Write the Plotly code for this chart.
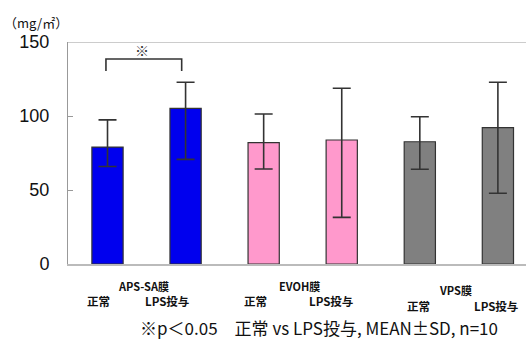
import plotly.graph_objects as go

# ---- data ----
groups = ["APS-SA膜", "EVOH膜", "VPS膜"]
conditions = ["正常", "LPS投与"]
means = [79.0, 105.2, 82.0, 83.8, 82.6, 92.1]
err_plus = [18.4, 17.6, 19.4, 34.9, 16.9, 30.7]
err_minus = [13.1, 34.5, 17.8, 52.3, 18.6, 44.3]
bar_colors = ["#0000EE", "#0000EE", "#FF99CC", "#FF99CC", "#808080", "#808080"]
y_ticks = [0, 50, 100, 150]
y_unit = "（mg/㎡）"
footnote = "※p＜0.05　正常 vs LPS投与, MEAN±SD, n=10"
sig_mark = "※"

xs = list(range(len(means)))

fig = go.Figure()
fig.add_trace(go.Bar(
    x=xs, y=means, width=0.40,
    marker=dict(color=bar_colors, line=dict(color="#333333", width=1.2)),
    error_y=dict(type="data", symmetric=False, array=err_plus, arrayminus=err_minus,
                 color="#333333", thickness=1.6, width=9),
    showlegend=False, hoverinfo="skip",
))

# plot area in px: left 68, right 526, top 42, bottom 264
H_PLOT = 222.0
W_PLOT = 458.0
def py(px):
    return (264.0 - px) / H_PLOT
def pxp(px):
    return (px - 68.0) / W_PLOT

annotations = []
cjk = "Noto Sans CJK JP"
base = dict(showarrow=False, xanchor="center", yanchor="middle")
# group labels
group_y = [286, 286, 290]
for gi, g in enumerate(groups):
    annotations.append(dict(base, x=2 * gi + 0.5 - 0.04, y=py(group_y[gi]), xref="x", yref="paper",
                            text="<b>" + g + "</b>",
                            font=dict(family=cjk, size=11, color="#111111")))
# condition labels (manual text box offsets as in the reference)
cond_dx = [-0.12, -0.24, -0.11, -0.14, -0.02, -0.03]
cond_y = [301, 301, 301, 301, 306, 306]
for i in xs:
    annotations.append(dict(base, x=i + cond_dx[i], y=py(cond_y[i]), xref="x", yref="paper",
                            text="<b>" + conditions[i % 2] + "</b>",
                            font=dict(family=cjk, size=11.5, color="#111111")))
# footnote
annotations.append(dict(base, x=pxp(319), y=py(327), xref="paper", yref="paper", text=footnote,
                        font=dict(family=cjk, size=17, color="#111111")))
# unit
annotations.append(dict(base, x=pxp(36), y=py(23), xref="paper", yref="paper", text=y_unit,
                        font=dict(family=cjk, size=13, color="#111111")))
# significance mark
annotations.append(dict(base, x=0.44, y=144.6, xref="x", yref="y", text=sig_mark,
                        font=dict(family=cjk, size=14, color="#333333")))

shapes = [
    # top border line at 150
    dict(type="line", xref="paper", yref="y", x0=0, x1=1, y0=150, y1=150,
         line=dict(color="#BBBBBB", width=1.5)),
    # significance bracket
    dict(type="path", xref="x", yref="y",
         path="M -0.02,130.4 L -0.02,138.5 L 0.95,138.5 L 0.95,130.4",
         line=dict(color="#333333", width=1.6)),
]

fig.update_layout(
    width=526, height=339,
    margin=dict(l=68, r=0, t=42, b=75),
    paper_bgcolor="white", plot_bgcolor="white",
    annotations=annotations, shapes=shapes,
    xaxis=dict(range=[-0.506, 5.36], showticklabels=False, ticks="", showgrid=False,
               zeroline=False, showline=True, linecolor="#BBBBBB", linewidth=1.5),
    yaxis=dict(range=[0, 150], tickvals=y_ticks, showgrid=False, zeroline=False,
               showline=True, linecolor="#999999", linewidth=1,
               ticks="inside", ticklen=5, tickcolor="#999999",
               tickfont=dict(family="Liberation Sans", size=18, color="#111111"),
               ticklabelstandoff=14),
)

fig.write_html("out.html")
